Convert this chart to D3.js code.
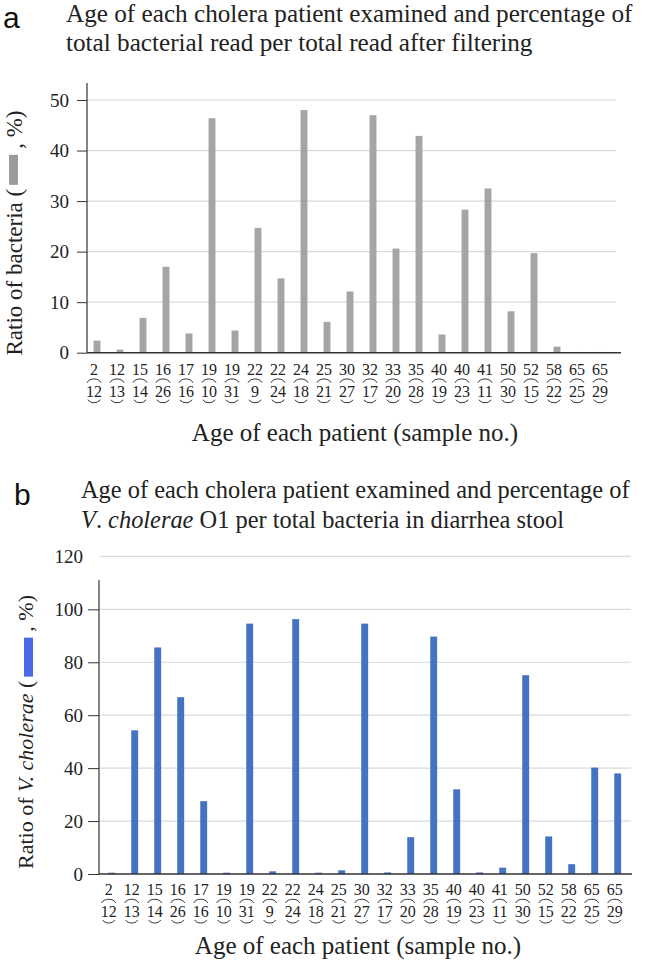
<!DOCTYPE html>
<html><head><meta charset="utf-8">
<script src="https://cdn.jsdelivr.net/npm/d3@7"></script>
<style>body{margin:0;background:#fff} svg{display:block}</style>
</head><body>
<svg id="c" width="645" height="965"></svg>
<script>
const ages = [2,12,15,16,17,19,19,22,22,24,25,30,32,33,35,40,40,41,50,52,58,65,65];
const samples = [12,13,14,26,16,10,31,9,24,18,21,27,17,20,28,19,23,11,30,15,22,25,29];
const bacteriaRatio = [2.4,0.6,6.9,17.0,3.8,46.4,4.4,24.7,14.7,48.0,6.1,12.1,47.0,20.6,42.9,3.6,28.3,32.5,8.2,19.7,1.2,0.15,0.15];
const choleraeRatio = [0.5,54.3,85.6,66.8,27.5,0.5,94.6,1.0,96.3,0.5,1.4,94.6,0.6,13.9,89.7,32.0,0.6,2.4,75.1,14.2,3.7,40.2,38.0];
const ticksA = [0,10,20,30,40,50];
const ticksB = [0,20,40,60,80,100,120];

const SERIF = "Liberation Serif, Times New Roman, serif";
const SANS = "Liberation Sans, Arial, sans-serif";
const svg = d3.select('#c');

function panel(cfg){
  const g = svg.append('g');
  const x = d3.scaleBand().domain(d3.range(ages.length)).range([cfg.x0, cfg.x1]).paddingInner(0.7).paddingOuter(0.35);
  const y = d3.scaleLinear().domain(cfg.domain).range(cfg.yRange);
  const y0 = y(0);

  // panel letter
  g.append('text').attr('x', cfg.letterX).attr('y', cfg.letterY).style('font-family', SANS)
    .attr('font-size', 30).attr('fill', '#111').text(cfg.letter);
  // title
  cfg.title.forEach((line, k) => {
    const t = g.append('text').attr('x', cfg.titleX).attr('y', cfg.titleY + k*cfg.titleLH)
      .style('font-family', SERIF).attr('font-size', cfg.titleFs).attr('fill', '#222');
    line.forEach(seg => t.append('tspan').attr('font-style', seg.i ? 'italic' : null).text(seg.t));
  });

  // gridlines
  g.append('g').selectAll('line').data(cfg.ticks.filter(d => d > 0)).join('line')
    .attr('x1', cfg.gridStart).attr('x2', cfg.gridEnd)
    .attr('y1', d => y(d)).attr('y2', d => y(d))
    .attr('stroke', '#d9d9d9').attr('stroke-width', 1.2);

  // y axis ticks
  const ax = g.append('g').attr('transform', `translate(${cfg.axisX},0)`)
    .call(d3.axisLeft(y).tickValues(cfg.ticks).tickSize(cfg.tick).tickPadding(cfg.pad).tickFormat(d3.format('d')));
  ax.select('.domain').remove();
  ax.selectAll('.tick line').attr('stroke', '#333').filter(d => y(d) < cfg.axisTop).remove();
  ax.selectAll('.tick text').style('font-family', SERIF).attr('font-size', 19).attr('fill', '#222');

  // bars
  g.append('g').selectAll('rect').data(cfg.values).join('rect')
    .attr('x', (d, i) => x(i)).attr('width', x.bandwidth())
    .attr('y', d => y(d)).attr('height', d => y0 - y(d))
    .attr('fill', cfg.color);

  // axis lines
  g.append('line').attr('x1', cfg.axisX).attr('x2', cfg.axisX).attr('y1', cfg.axisTop).attr('y2', y0)
    .attr('stroke', '#333').attr('stroke-width', 1.2);
  g.append('line').attr('x1', cfg.axisX).attr('x2', cfg.baseEnd).attr('y1', y0).attr('y2', y0)
    .attr('stroke', '#333').attr('stroke-width', 1.4);

  // x labels
  const lab = g.append('g').selectAll('g').data(ages).join('g')
    .attr('transform', (d, i) => `translate(${x(i) + x.bandwidth()/2 - 3},${y0})`);
  lab.append('text').attr('y', cfg.ageDy).attr('text-anchor', 'middle')
    .style('font-family', SERIF).attr('font-size', 16).attr('fill', '#222').text(d => d);
  lab.append('text').attr('y', cfg.sampleDy).attr('text-anchor', 'middle')
    .style('font-family', SERIF).attr('font-size', 16).attr('fill', '#222').text((d, i) => samples[i]);
  lab.append('path').attr('d', `M-7,${cfg.ageDy+8} C-5,${cfg.ageDy+3} 5,${cfg.ageDy+3} 7,${cfg.ageDy+8}`)
    .attr('fill', 'none').attr('stroke', '#333').attr('stroke-width', 1);
  lab.append('path').attr('d', `M-6,${cfg.sampleDy+3} C-4,${cfg.sampleDy+7} 4,${cfg.sampleDy+7} 6,${cfg.sampleDy+3}`)
    .attr('fill', 'none').attr('stroke', '#333').attr('stroke-width', 1);

  // x title
  g.append('text').attr('x', cfg.xTitleX).attr('y', y0 + cfg.xTitleDy).attr('text-anchor', 'middle')
    .style('font-family', SERIF).attr('font-size', 25).attr('fill', '#222').text('Age of each patient (sample no.)');

  // y label with swatch
  const yl = g.append('g').attr('transform', `translate(${cfg.yLabX},${cfg.yLabY}) rotate(-90)`);
  const fs = cfg.yLabFs;
  const t1 = yl.append('text').style('font-family', SERIF).attr('font-size', fs).attr('fill', '#222');
  cfg.yLab1.forEach(seg => t1.append('tspan').attr('font-style', seg.i ? 'italic' : null).text(seg.t));
  const w1 = t1.node().getComputedTextLength();
  const t2 = yl.append('text').style('font-family', SERIF).attr('font-size', fs).attr('fill', '#222').text(', %)');
  const w2 = t2.node().getComputedTextLength();
  const total = w1 + cfg.gap1 + cfg.swLen + cfg.gap2 + w2;
  const start = -total/2;
  t1.attr('x', start);
  yl.append('rect').attr('x', start + w1 + cfg.gap1).attr('y', -cfg.swTop).attr('width', cfg.swLen).attr('height', cfg.swTh)
    .attr('fill', cfg.swColor);
  t2.attr('x', start + w1 + cfg.gap1 + cfg.swLen + cfg.gap2);
}

panel({
  letter: 'a', letterX: 3, letterY: 28,
  title: [[{t: 'Age of each cholera patient examined and percentage of'}], [{t: 'total bacterial read per total read after filtering'}]],
  titleX: 66, titleY: 22, titleLH: 29, titleFs: 25.2,
  x0: 85.5, x1: 614.5, domain: [0, 50], yRange: [352.7, 100],
  ticks: ticksA, values: bacteriaRatio, color: '#a5a5a5',
  axisX: 87, axisTop: 83, gridStart: 87, gridEnd: 616, baseEnd: 621,
  tick: 10, pad: 8,
  ageDy: 22, sampleDy: 44, xTitleX: 355, xTitleDy: 88,
  yLabX: 22, yLabY: 233, yLabFs: 23,
  yLab1: [{t: 'Ratio of bacteria ('}], gap1: 4, swLen: 30, gap2: 6, swTop: 13, swTh: 9, swColor: '#9b9b9b'
});

panel({
  letter: 'b', letterX: 14, letterY: 505,
  title: [[{t: 'Age of each cholera patient examined and percentage of'}], [{t: 'V', i: true}, {t: '. '}, {t: 'cholerae', i: true}, {t: ' O1 per total bacteria in diarrhea stool'}]],
  titleX: 81, titleY: 498, titleLH: 30, titleFs: 24.4,
  x0: 100.2, x1: 629.2, domain: [0, 120], yRange: [874, 556.4],
  ticks: ticksB, values: choleraeRatio, color: '#4472c4',
  axisX: 99, axisTop: 580, gridStart: 100, gridEnd: 631, baseEnd: 632,
  tick: 11, pad: 5,
  ageDy: 21, sampleDy: 43, xTitleX: 358, xTitleDy: 80,
  yLabX: 33, yLabY: 732, yLabFs: 22,
  yLab1: [{t: 'Ratio of '}, {t: 'V. cholerae', i: true}, {t: ' ('}], gap1: 4, swLen: 39, gap2: 6, swTop: 9, swTh: 9, swColor: '#4a6ae6'
});
</script>
</body></html>
